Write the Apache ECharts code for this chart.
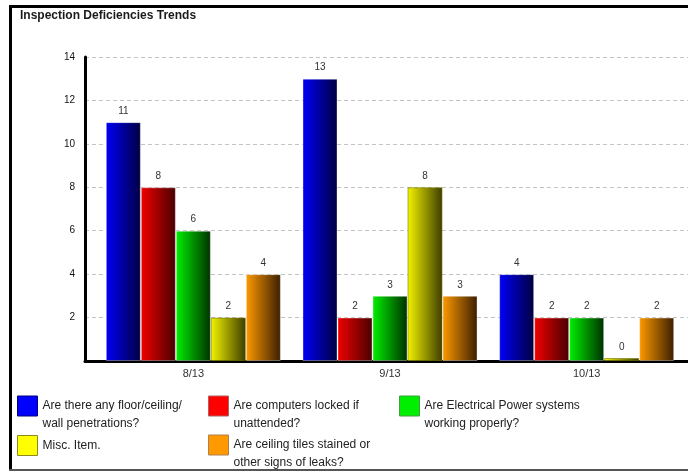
<!DOCTYPE html>
<html>
<head>
<meta charset="utf-8">
<title>Inspection Deficiencies Trends</title>
<script src="https://cdn.jsdelivr.net/npm/echarts@6/dist/echarts.min.js"></script>
<style>
  html, body { margin: 0; padding: 0; background: #ffffff; }
  #chart { width: 688px; height: 472px; }
</style>
</head>
<body>
<div id="chart"></div>
<script>
// Months inspected
const categories = ['8/13', '9/13', '10/13'];

// Deficiency counts per inspection question
const floorPenetrations = [11, 13, 4];
const computersLocked = [8, 2, 2];
const electricalPower = [6, 3, 2];
const miscItem = [2, 8, 0];
const ceilingTiles = [4, 3, 2];

const seriesNames = [
  'Are there any floor/ceiling/ wall penetrations?',
  'Are computers locked if unattended?',
  'Are Electrical Power systems working properly?',
  'Misc. Item.',
  'Are ceiling tiles stained or other signs of leaks?'
];
const legendLabels = [
  'Are there any floor/ceiling/\nwall penetrations?',
  'Are computers locked if\nunattended?',
  'Are Electrical Power systems\nworking properly?',
  'Misc. Item.',
  'Are ceiling tiles stained or\nother signs of leaks?'
];

// Value axis ticks
const yMin = 0, yMax = 14, yStep = 2;

const seriesData = [floorPenetrations, computersLocked, electricalPower, miscItem, ceilingTiles];

// Bright face on the left fading to a dark edge on the right
const palette = [
  { light: '#0000f8', dark: '#000040', flat: '#0000ff', edge: '#00007a' },
  { light: '#f20000', dark: '#480000', flat: '#ff0000', edge: '#b06060' },
  { light: '#00f000', dark: '#003000', flat: '#00ee00', edge: '#40a040' },
  { light: '#f4f400', dark: '#3c3c00', flat: '#ffff00', edge: '#8a8a20' },
  { light: '#ff9a00', dark: '#3a1e00', flat: '#ff9900', edge: '#b08050' }
];

function gradient(c) {
  return new echarts.graphic.LinearGradient(0, 0, 1, 0, [
    { offset: 0, color: c.light },
    { offset: 1, color: c.dark }
  ]);
}

const FONT = 'Arial, "Liberation Sans", sans-serif';

const series = seriesData.map((data, i) => ({
  name: seriesNames[i],
  type: 'bar',
  xAxisIndex: 1,
  yAxisIndex: 1,
  data: data,
  barWidth: 35,
  barGap: '0%',
  barMinHeight: i === 3 ? 3 : 0,
  itemStyle: {
    color: gradient(palette[i]),
    borderColor: i === 3 ? 'rgba(120,120,0,0.6)' : 'rgba(255,255,255,0.35)',
    borderWidth: 1
  },
  label: {
    show: true,
    position: 'top',
    distance: 6,
    fontSize: 10,
    fontFamily: FONT,
    color: '#333333'
  },
  z: 5
}));

// Legend placed as a 3-column block under the plot
const legendSlots = [
  { left: 17, top: 379 },
  { left: 208, top: 379 },
  { left: 399, top: 379 },
  { left: 17, top: 435 },
  { left: 208, top: 418 }
];

const legends = seriesNames.map((name, i) => {
  const twoLines = legendLabels[i].indexOf('\n') >= 0;
  return {
    left: legendSlots[i].left,
    top: legendSlots[i].top,
    padding: 0,
    itemWidth: 20,
    itemHeight: 20,
    icon: 'rect',
    selectedMode: false,
    data: [{
      name: name,
      itemStyle: { color: palette[i].flat, borderColor: palette[i].edge, borderWidth: 1 }
    }],
    // a leading blank line keeps the first text line level with the swatch
    formatter: () => (twoLines ? '\n' : '') + legendLabels[i],
    textStyle: {
      fontSize: 12,
      fontFamily: FONT,
      color: '#222222',
      lineHeight: 18
    }
  };
});

const chart = echarts.init(document.getElementById('chart'), null, { renderer: 'canvas' });

chart.setOption({
  backgroundColor: '#ffffff',
  animation: false,
  title: {
    text: 'Inspection Deficiencies Trends',
    left: 20,
    top: 10,
    padding: 0,
    textStyle: { fontSize: 12, fontWeight: 'bold', fontFamily: FONT, color: '#1a1a1a' }
  },
  legend: legends,
  grid: [
    // frame grid: axis lines and dashed guides
    { left: 85, right: 0, top: 57, bottom: 111, containLabel: false },
    // bar grid
    { left: 95, width: 590, top: 57, bottom: 111, containLabel: false }
  ],
  xAxis: [
    {
      gridIndex: 0,
      type: 'category',
      data: categories,
      axisLine: { show: true, lineStyle: { color: '#000000', width: 3 } },
      axisTick: { show: false },
      axisLabel: { show: false },
      splitLine: { show: false }
    },
    {
      gridIndex: 1,
      type: 'category',
      data: categories,
      axisLine: { show: false },
      axisTick: { show: false },
      axisLabel: { fontSize: 11, fontFamily: FONT, color: '#333333', margin: 7 },
      splitLine: { show: false }
    }
  ],
  yAxis: [
    {
      gridIndex: 0,
      type: 'value',
      min: yMin,
      max: yMax,
      interval: yStep,
      axisLine: { show: true, lineStyle: { color: '#000000', width: 3 } },
      axisTick: { show: false },
      axisLabel: {
        showMinLabel: false,
        fontSize: 10,
        fontFamily: FONT,
        color: '#111111',
        margin: 10
      },
      splitLine: { show: true, lineStyle: { color: '#c4c4c4', type: [4, 3], width: 1 } }
    },
    {
      gridIndex: 1,
      type: 'value',
      min: yMin,
      max: yMax,
      interval: yStep,
      show: false
    }
  ],
  graphic: [
    { type: 'rect', shape: { x: 9, y: 5, width: 679, height: 3 }, style: { fill: '#000000' }, silent: true },
    { type: 'rect', shape: { x: 9, y: 5, width: 3, height: 465 }, style: { fill: '#000000' }, silent: true },
    { type: 'rect', shape: { x: 9, y: 469, width: 679, height: 2 }, style: { fill: '#555555' }, silent: true }
  ],
  series: series
});
</script>
</body>
</html>
